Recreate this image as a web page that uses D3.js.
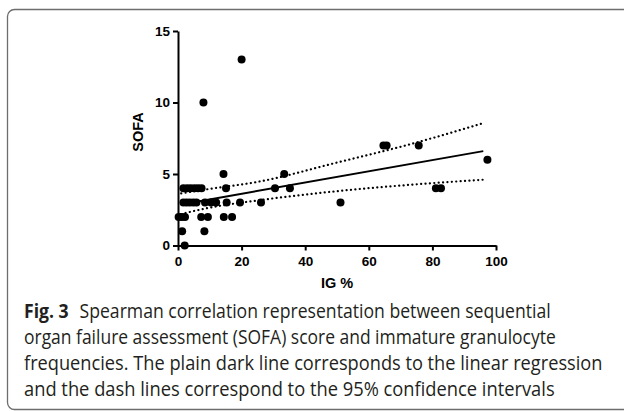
<!DOCTYPE html>
<html lang="en">
<head>
    <meta charset="UTF-8">
    <title>SOFA vs IG %</title>
    <style>
        body { margin: 0; background: #fff; }
        .axis path, .axis line { stroke: #000; stroke-width: 2; }
        .axis text { font: bold 13.5px "Liberation Sans", Arial, sans-serif; fill: #000; }
        .caption { font-family: "Open Sans", sans-serif; font-size: 19.5px; fill: #231f20; }
    </style>
</head>
<body>
    <svg width="624" height="411"></svg>

    <script src="https://d3js.org/d3.v7.min.js"></script>
    <script>
        // IG % and SOFA score for each patient
        const igValues = [2.1, 1.3, 8.3,
            0.2, 1.2, 2.2, 7.3, 9.4, 14.4, 17.0,
            1.7, 2.7, 3.7, 4.8, 5.8, 8.5, 10.4, 12.0, 15.3, 19.5, 26.1, 51.1,
            1.7, 2.9, 4.0, 5.2, 6.3, 7.4, 15.1, 30.5, 35.2, 81.1, 82.7,
            14.3, 33.4, 97.3, 64.6, 65.6, 75.7, 8.0, 20.0];
        const sofaValues = [0, 1, 1,
            2, 2, 2, 2, 2, 2, 2,
            3, 3, 3, 3, 3, 3, 3, 3, 3, 3, 3, 3,
            4, 4, 4, 4, 4, 4, 4, 4, 4, 4, 4,
            5, 5, 6, 7, 7, 7, 10, 13];

        // regression line and 95% CI
        const fitX = [1, 96];
        const fitY = [2.87, 6.6];
        const bandX = [1, 10, 25, 50, 75, 96];
        const bandUpper = [3.65, 3.96, 4.45, 5.8, 7.2, 8.56];
        const bandLower = [2.2, 2.65, 3.15, 3.8, 4.28, 4.6];

        const xTicks = [0, 20, 40, 60, 80, 100];
        const yTicks = [0, 5, 10, 15];

        const captionLines = [
            ["Fig. 3", "Spearman correlation representation between sequential"],
            ["", "organ failure assessment (SOFA) score and immature granulocyte"],
            ["", "frequencies. The plain dark line corresponds to the linear regression"],
            ["", "and the dash lines correspond to the 95% confidence intervals"]
        ];
        const captionWidths = [527, 532, 579, 531];

        const svg = d3.select("svg");

        // frame around the figure
        svg.append("rect")
            .attr("x", 7.5).attr("y", 9.5)
            .attr("width", 640).attr("height", 400)
            .attr("rx", 7)
            .attr("fill", "none")
            .attr("stroke", "#6d6d6d")
            .attr("stroke-width", 1.3);

        const x = d3.scaleLinear().domain([0, 100]).range([178, 496]);
        const y = d3.scaleLinear().domain([0, 15]).range([245.5, 31]);

        // x axis
        svg.append("g")
            .attr("class", "axis")
            .attr("transform", `translate(0,${y(0)})`)
            .call(d3.axisBottom(x).tickValues(xTicks).tickSize(5).tickSizeOuter(0).tickPadding(6));

        // y axis
        svg.append("g")
            .attr("class", "axis")
            .attr("transform", `translate(${x(0)},0)`)
            .call(d3.axisLeft(y).tickValues(yTicks).tickSize(5).tickSizeOuter(0).tickPadding(3));

        svg.append("text")
            .attr("transform", `translate(143,132) rotate(-90)`)
            .attr("text-anchor", "middle")
            .style("font", "bold 14.5px 'Liberation Sans', Arial, sans-serif")
            .text("SOFA");

        svg.append("text")
            .attr("x", (x(0) + x(100)) / 2)
            .attr("y", 288)
            .attr("text-anchor", "middle")
            .style("font", "bold 14.5px 'Liberation Sans', Arial, sans-serif")
            .text("IG %");

        // confidence bands (dotted)
        const bandLine = d3.line().x(d => x(d[0])).y(d => y(d[1])).curve(d3.curveMonotoneX);
        [bandUpper, bandLower].forEach(vals => {
            svg.append("path")
                .datum(bandX.map((v, i) => [v, vals[i]]))
                .attr("d", bandLine)
                .attr("fill", "none")
                .attr("stroke", "#000")
                .attr("stroke-width", 2.2)
                .attr("stroke-linecap", "round")
                .attr("stroke-dasharray", "0.1,4.3");
        });

        // regression line
        svg.append("path")
            .datum(fitX.map((v, i) => [v, fitY[i]]))
            .attr("d", d3.line().x(d => x(d[0])).y(d => y(d[1])))
            .attr("fill", "none")
            .attr("stroke", "#000")
            .attr("stroke-width", 2);

        // points
        svg.selectAll(".dot")
            .data(igValues.map((v, i) => [v, sofaValues[i]]))
            .enter().append("circle")
            .attr("class", "dot")
            .attr("cx", d => x(d[0]))
            .attr("cy", d => y(d[1]))
            .attr("r", 4)
            .attr("fill", "#000");

        // caption: squeeze each line horizontally to the width it has in the figure
        captionLines.forEach((line, i) => {
            const t = svg.append("text")
                .attr("class", "caption")
                .attr("x", 0)
                .attr("y", 0);
            if (line[0]) {
                t.append("tspan").style("font-weight", "bold").text(line[0]);
            }
            t.append("tspan").attr("dx", line[0] ? 12 : 0).text(line[1]);
            const len = t.node().getComputedTextLength() + (line[0] ? 12 : 0);
            t.attr("transform", `translate(24,${318 + i * 26}) scale(${captionWidths[i] / len},1)`);
        });
    </script>
</body>
</html>
